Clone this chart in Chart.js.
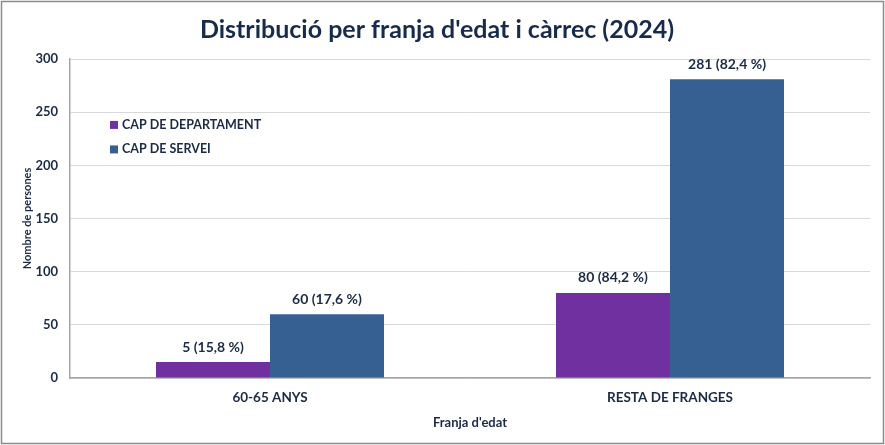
<!DOCTYPE html>
<html>
<head>
<meta charset="utf-8">
<script src="https://cdn.jsdelivr.net/npm/chart.js@4.4.1/dist/chart.umd.min.js"></script>
<style>
  html, body { margin: 0; padding: 0; background: #ffffff; }
  #wrap { width: 885px; height: 445px; position: relative; }
</style>
</head>
<body>
<div id="wrap"><canvas id="c" width="885" height="445"></canvas></div>
<script>
const categories = ['60-65 ANYS', 'RESTA DE FRANGES'];
const seriesNames = ['CAP DE DEPARTAMENT', 'CAP DE SERVEI'];
// bar heights as drawn in the reference
const deptValues = [15, 80];
const serveiValues = [60, 281];
// data label texts as printed in the reference
const deptLabels = ['5 (15,8 %)', '80 (84,2 %)'];
const serveiLabels = ['60 (17,6 %)', '281 (82,4 %)'];
const yTicks = [0, 50, 100, 150, 200, 250, 300];
const titleText = "Distribució per franja d'edat i càrrec (2024)";
const xTitle = "Franja d'edat";
const yTitle = 'Nombre de persones';

const FONT = 'Lato, "Open Sans", sans-serif';
const TXT = '#1b2a45';
const PURPLE = '#7030a0';
const BLUE = '#376092';

const labelsByDataset = [deptLabels, serveiLabels];

const dataLabelPlugin = {
  id: 'dataLabels',
  afterDatasetsDraw(chart) {
    const ctx = chart.ctx;
    ctx.save();
    ctx.font = 'bold 14px ' + FONT;
    ctx.fillStyle = TXT;
    ctx.textAlign = 'center';
    ctx.textBaseline = 'middle';
    chart.data.datasets.forEach((ds, di) => {
      chart.getDatasetMeta(di).data.forEach((bar, i) => {
        ctx.fillText(labelsByDataset[di][i], bar.x, bar.y - 15);
      });
    });
    ctx.restore();
  }
};

const insideLegendPlugin = {
  id: 'insideLegend',
  afterDraw(chart) {
    const ctx = chart.ctx;
    const x = chart.scales.x.left + 40;
    const y0 = chart.scales.y.getPixelForValue(238);
    ctx.save();
    ctx.font = 'bold 12.5px ' + FONT;
    ctx.textBaseline = 'middle';
    ctx.textAlign = 'left';
    chart.data.datasets.forEach((ds, i) => {
      const y = y0 + i * 24.5;
      ctx.fillStyle = ds.backgroundColor;
      ctx.fillRect(x, y - 4, 8, 8);
      ctx.fillStyle = TXT;
      ctx.fillText(ds.label, x + 12, y);
    });
    ctx.restore();
  }
};

const borderPlugin = {
  id: 'outerBorder',
  afterDraw(chart) {
    const ctx = chart.ctx;
    ctx.save();
    ctx.strokeStyle = '#8c8c8c';
    ctx.lineWidth = 1.5;
    ctx.strokeRect(1.5, 1.5, chart.width - 3, chart.height - 3);
    ctx.restore();
  }
};

new Chart(document.getElementById('c'), {
  type: 'bar',
  data: {
    labels: categories,
    datasets: [
      { label: seriesNames[0], data: deptValues, backgroundColor: PURPLE },
      { label: seriesNames[1], data: serveiValues, backgroundColor: BLUE }
    ]
  },
  options: {
    responsive: false,
    animation: false,
    devicePixelRatio: 1,
    layout: { padding: { left: 4, right: 15, top: 0, bottom: 0 } },
    datasets: { bar: { categoryPercentage: 0.57, barPercentage: 1.0 } },
    plugins: {
      legend: { display: false },
      tooltip: { enabled: false },
      title: {
        display: true,
        text: titleText,
        color: '#172b4d',
        font: { family: FONT, size: 25, weight: 'bold' },
        padding: { top: 15, bottom: 14 }
      }
    },
    scales: {
      x: {
        grid: { display: false, drawTicks: false },
        border: { color: '#a6a6a6', width: 1.5 },
        ticks: { color: TXT, font: { family: FONT, size: 13.5, weight: 'bold' }, padding: 12 },
        title: { display: true, text: xTitle, color: TXT, font: { family: FONT, size: 13, weight: 'bold' }, padding: { top: 6, bottom: 14 } },
        afterFit(s) { s.height = 67; }
      },
      y: {
        min: 0, max: 300,
        afterBuildTicks(s) { s.ticks = yTicks.map(v => ({ value: v })); },
        grid: { color: '#d9d9d9', drawTicks: false },
        border: { color: '#a6a6a6', width: 1.5 },
        ticks: { color: TXT, font: { family: FONT, size: 13, weight: 'bold' }, padding: 12 },
        title: { display: true, text: yTitle, color: TXT, font: { family: FONT, size: 11, weight: 'bold' }, padding: { top: 17, bottom: 0 } },
        afterFit(s) { s.width = 66; }
      }
    }
  },
  plugins: [dataLabelPlugin, insideLegendPlugin, borderPlugin]
});
</script>
</body>
</html>
